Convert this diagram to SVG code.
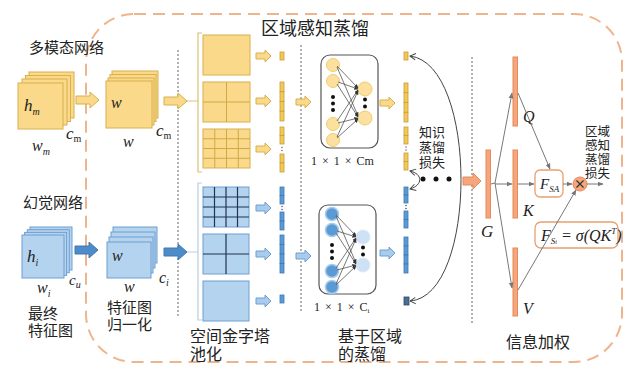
<svg xmlns="http://www.w3.org/2000/svg" width="627" height="370" viewBox="0 0 627 370">
<defs>
<style>
.cjk{font-family:"Liberation Sans","Noto Sans CJK SC",sans-serif;fill:#222}
.m{font-family:"Liberation Serif","Times New Roman",serif;font-style:italic;fill:#222}
.ys{fill:#FAD98A;stroke:#D8B04C;stroke-width:1}
.bs{fill:#B4D3EF;stroke:#6E9FD2;stroke-width:1}
.yc{fill:#F2C85A;stroke:#C99E34;stroke-width:0.8}
.bc{fill:#5B9BD5;stroke:#3E78B4;stroke-width:0.8}
.ygrid{fill:none;stroke:#D0A846;stroke-width:1}
.bgrid{fill:none;stroke:#1F3550;stroke-width:1.2}
.ya{fill:#FAD98A;stroke:#D8B04C;stroke-width:1}
.ba{fill:#4E8BC9;stroke:#3E78B4;stroke-width:1}
.bla{fill:#A9CBEC;stroke:#6E9FD2;stroke-width:1}
.dot{stroke:#666;stroke-width:1;stroke-dasharray:2 2}
.nn{fill:#fff;stroke:#555;stroke-width:1.2}
.nl{stroke:#555;stroke-width:0.8;marker-end:url(#ah)}
.ob{fill:#F5A67C;stroke:#E58A5A;stroke-width:1}
.gl{stroke:#777;stroke-width:1;fill:none;marker-end:url(#ga)}
.ll{stroke:#444;stroke-width:1;fill:none;marker-end:url(#oa);marker-start:url(#oas)}
.box{fill:#fff;stroke:#E8A070;stroke-width:1.3}
.dim{font-family:"Liberation Serif","Times New Roman",serif;font-size:12px;fill:#222;word-spacing:2px}
</style>
<marker id="ah" viewBox="0 0 10 10" refX="9" refY="5" markerWidth="5" markerHeight="5" orient="auto"><path d="M0,0 L10,5 L0,10Z" fill="#333"/></marker>
<marker id="ga" viewBox="0 0 10 10" refX="9" refY="5" markerWidth="6" markerHeight="6" orient="auto"><path d="M0,1 L10,5 L0,9Z" fill="#777"/></marker>
<marker id="oa" viewBox="0 0 10 10" refX="9" refY="5" markerWidth="8" markerHeight="8" orient="auto"><path d="M2,1 L9,5 L2,9" fill="none" stroke="#444" stroke-width="1.2"/></marker>
<marker id="oas" viewBox="0 0 10 10" refX="1" refY="5" markerWidth="8" markerHeight="8" orient="auto"><path d="M8,1 L1,5 L8,9" fill="none" stroke="#444" stroke-width="1.2"/></marker>
<path id="bigArrow" d="M0,-4 H14 V-8 L23,0 L14,8 V4 H0Z"/>
<path id="smArrow" d="M0,-3 H9 V-6 L15,0 L9,6 V3 H0Z"/>
</defs>
<rect width="627" height="370" fill="#fff"/>

<!-- dashed border -->
<rect x="86" y="14" width="536" height="348" rx="48" ry="48" fill="none" stroke="#F0B48C" stroke-width="2" stroke-dasharray="12 7"/>

<!-- dotted separators -->
<line class="dot" x1="178" y1="50" x2="178" y2="318"/>
<line class="dot" x1="301" y1="45" x2="301" y2="312"/>
<line class="dot" x1="472" y1="57" x2="472" y2="323"/>

<text class="cjk" x="261" y="35" font-size="18">区域感知蒸馏</text>

<g id="multimodal-map">
<rect class="ys" x="29" y="72" width="45" height="46"/>
<rect class="ys" x="25.5" y="75.5" width="45" height="46"/>
<rect class="ys" x="22" y="79" width="45" height="46"/>
<rect class="ys" x="18" y="83" width="45" height="46"/>
<text class="m" x="24" y="111" font-size="17">h<tspan font-size="10" dy="4">m</tspan></text>
<text class="m" x="32" y="151" font-size="16">w<tspan font-size="10" dy="4">m</tspan></text>
<text class="m" x="66" y="139" font-size="17">c<tspan font-size="10" dy="3" font-style="normal">m</tspan></text>
<text class="cjk" x="29" y="53" font-size="15">多模态网络</text>
</g>

<g id="multimodal-norm">
<rect class="ys" x="112" y="71" width="46" height="47"/>
<rect class="ys" x="110" y="74.5" width="46" height="47"/>
<rect class="ys" x="108" y="78" width="46" height="47"/>
<rect class="ys" x="106" y="81" width="46" height="47"/>
<text class="m" x="111" y="108" font-size="16">w</text>
<text class="m" x="123" y="147" font-size="16">w</text>
<text class="m" x="156" y="136" font-size="17">c<tspan font-size="10" dy="3" font-style="normal">m</tspan></text>
</g>

<g id="halluc-map">
<rect class="bs" x="30" y="227" width="42" height="43"/>
<rect class="bs" x="27.3" y="229.7" width="42" height="43"/>
<rect class="bs" x="24.6" y="232.4" width="42" height="43"/>
<rect class="bs" x="22" y="235" width="42" height="43"/>
<text class="m" x="27" y="262" font-size="17">h<tspan font-size="10" dy="4">i</tspan></text>
<text class="m" x="37" y="293" font-size="16">w<tspan font-size="10" dy="4">i</tspan></text>
<text class="m" x="69" y="285" font-size="15">c<tspan font-size="10" dy="3">u</tspan></text>
<text class="cjk" x="23" y="208" font-size="15">幻觉网络</text>
<text class="cjk" font-size="15"><tspan x="28" y="319">最终</tspan><tspan x="28" y="336">特征图</tspan></text>
</g>

<g id="halluc-norm">
<rect class="bs" x="113" y="227" width="44" height="36"/>
<rect class="bs" x="111" y="232" width="44" height="36"/>
<rect class="bs" x="109" y="237" width="44" height="36"/>
<rect class="bs" x="107" y="242" width="44" height="36"/>
<text class="m" x="112" y="261" font-size="16">w</text>
<text class="m" x="124" y="292" font-size="16">w</text>
<text class="m" x="159" y="283" font-size="16">c<tspan font-size="10" dy="3">i</tspan></text>
<text class="cjk" font-size="15"><tspan x="107" y="313">特征图</tspan><tspan x="107" y="330">归一化</tspan></text>
</g>

<g id="spp-yellow">
<path d="M202,33 H198 V172 H202" fill="none" stroke="#DCC07A" stroke-width="1.2"/>
<rect class="ys" x="203" y="35" width="47" height="40"/>
<rect class="ys" x="203" y="82" width="47" height="40"/>
<path class="ygrid" d="M226.5,82 V122 M203,102 H250"/>
<rect class="ys" x="203" y="129" width="47" height="39"/>
<path class="ygrid" d="M214.75,129 V168 M226.5,129 V168 M238.25,129 V168 M203,138.75 H250 M203,148.5 H250 M203,158.25 H250"/>
</g>

<g id="spp-blue">
<path d="M202,183 H198 V320 H202" fill="none" stroke="#B8CDE2" stroke-width="1.2"/>
<rect class="bs" x="203" y="187" width="46" height="40"/>
<path class="bgrid" d="M214.5,187 V227 M226,187 V227 M237.5,187 V227 M203,197 H249 M203,207 H249 M203,217 H249"/>
<rect class="bs" x="203" y="234" width="46" height="40"/>
<path class="bgrid" d="M226,234 V274 M203,254 H249"/>
<rect class="bs" x="203" y="281" width="46" height="40"/>
<text class="cjk" font-size="16"><tspan x="190" y="342">空间金字塔</tspan><tspan x="190" y="360">池化</tspan></text>
</g>

<g id="vec-left-yellow">
<rect class="yc" x="280" y="52" width="4" height="8"/>
<rect class="yc" x="280" y="82" width="4" height="9.75"/>
<rect class="yc" x="280" y="91.75" width="4" height="9.75"/>
<rect class="yc" x="280" y="101.5" width="4" height="9.75"/>
<rect class="yc" x="280" y="111.25" width="4" height="9.75"/>
<rect class="yc" x="280" y="127" width="4" height="8.5"/>
<rect class="yc" x="280" y="135.5" width="4" height="8.5"/>
<circle cx="282" cy="147.5" r="0.7" fill="#555"/><circle cx="282" cy="150.5" r="0.7" fill="#555"/>
<rect class="yc" x="280" y="154" width="4" height="9"/>
<rect class="yc" x="280" y="163" width="4" height="9"/>
</g>

<g id="vec-left-blue">
<rect class="bc" x="280" y="187" width="4" height="8.5"/>
<rect class="bc" x="280" y="195.5" width="4" height="8.5"/>
<circle cx="282" cy="206.5" r="0.7" fill="#333"/><circle cx="282" cy="209.5" r="0.7" fill="#333"/>
<rect class="bc" x="280" y="212" width="4" height="9"/>
<rect class="bc" x="280" y="221" width="4" height="9"/>
<rect class="bc" x="280" y="235" width="4" height="9.5"/>
<rect class="bc" x="280" y="244.5" width="4" height="9.5"/>
<rect class="bc" x="280" y="254" width="4" height="9.5"/>
<rect class="bc" x="280" y="263.5" width="4" height="9.5"/>
<rect class="bc" x="280" y="295" width="4" height="8"/>
</g>

<g id="nn-yellow">
<rect class="nn" x="321" y="55" width="57" height="93" rx="9"/>
<g fill="#FBE0A0" stroke="#F2CC70" stroke-width="1">
<circle cx="333" cy="65" r="6.5"/><circle cx="333" cy="81" r="6.5"/><circle cx="333" cy="124" r="6.5"/><circle cx="333" cy="140" r="6.5"/>
<circle cx="365" cy="89" r="7"/><circle cx="365" cy="118" r="7"/>
</g>
<g fill="#111"><circle cx="333" cy="97" r="2"/><circle cx="333" cy="103.5" r="2"/><circle cx="333" cy="110" r="2"/><circle cx="365" cy="99.5" r="2"/><circle cx="365" cy="106.5" r="2"/></g>
<line class="nl" x1="337" y1="66" x2="358" y2="88"/><line class="nl" x1="337" y1="67" x2="358" y2="116"/>
<line class="nl" x1="338" y1="82" x2="358" y2="89"/><line class="nl" x1="337" y1="84" x2="358" y2="117"/>
<line class="nl" x1="337" y1="121" x2="358" y2="90"/><line class="nl" x1="338" y1="123" x2="358" y2="118"/>
<line class="nl" x1="337" y1="137" x2="358" y2="91"/><line class="nl" x1="337" y1="138" x2="358" y2="119"/>
<text class="dim" x="311" y="165">1 × 1 × Cm</text>
</g>

<g id="nn-blue">
<rect class="nn" x="319" y="205" width="57" height="89" rx="9"/>
<g fill="#5B9BD5" stroke="#A9CBEC" stroke-width="1.5">
<circle cx="332" cy="214" r="6.5"/><circle cx="332" cy="230" r="6.5"/><circle cx="332" cy="271" r="6.5"/><circle cx="332" cy="287" r="6.5"/>
</g>
<g fill="#CFE1F4" stroke="#DCE9F6" stroke-width="1"><circle cx="363" cy="237" r="7"/><circle cx="363" cy="265" r="7"/></g>
<g fill="#111"><circle cx="332" cy="245" r="2"/><circle cx="332" cy="251.5" r="2"/><circle cx="332" cy="258" r="2"/><circle cx="363" cy="247.5" r="2"/><circle cx="363" cy="254.5" r="2"/></g>
<line class="nl" x1="336" y1="215" x2="356" y2="236"/><line class="nl" x1="336" y1="216" x2="356" y2="263"/>
<line class="nl" x1="337" y1="231" x2="356" y2="237"/><line class="nl" x1="336" y1="233" x2="356" y2="264"/>
<line class="nl" x1="336" y1="268" x2="356" y2="238"/><line class="nl" x1="337" y1="270" x2="356" y2="265"/>
<line class="nl" x1="336" y1="284" x2="356" y2="239"/><line class="nl" x1="336" y1="285" x2="356" y2="266"/>
<text class="dim" x="314" y="311">1 × 1 × C<tspan font-size="7" dy="2">i</tspan></text>
<text class="cjk" font-size="16"><tspan x="338" y="342">基于区域</tspan><tspan x="338" y="360">的蒸馏</tspan></text>
</g>

<g id="vec-right-yellow">
<rect class="yc" x="404" y="52" width="4" height="8"/>
<rect class="yc" x="404" y="83" width="4" height="9.75"/>
<rect class="yc" x="404" y="92.75" width="4" height="9.75"/>
<rect class="yc" x="404" y="102.5" width="4" height="9.75"/>
<rect class="yc" x="404" y="112.25" width="4" height="9.75"/>
<rect class="yc" x="404" y="127" width="4" height="8.5"/>
<rect class="yc" x="404" y="135.5" width="4" height="8.5"/>
<circle cx="406" cy="147" r="0.7" fill="#555"/><circle cx="406" cy="150" r="0.7" fill="#555"/>
<rect class="yc" x="404" y="153" width="4" height="8.5"/>
<rect class="yc" x="404" y="161.5" width="4" height="8.5"/>
</g>

<g id="vec-right-blue">
<rect class="bc" x="404" y="187" width="4" height="8"/>
<rect class="bc" x="404" y="195" width="4" height="8"/>
<circle cx="406" cy="205.5" r="0.7" fill="#333"/><circle cx="406" cy="208.5" r="0.7" fill="#333"/>
<rect class="bc" x="404" y="211" width="4" height="8.5"/>
<rect class="bc" x="404" y="219.5" width="4" height="8.5"/>
<rect class="bc" x="404" y="237" width="4" height="9"/>
<rect class="bc" x="404" y="246" width="4" height="9"/>
<rect class="bc" x="404" y="255" width="4" height="9"/>
<rect class="bc" x="404" y="264" width="4" height="9"/>
<rect x="404" y="297" width="5" height="8" fill="#4A6F96" stroke="#2E4A66" stroke-width="0.8"/>
</g>

<g id="kd-loss">
<text class="cjk" font-size="13"><tspan x="419" y="137">知识</tspan><tspan x="419" y="152">蒸馏</tspan><tspan x="419" y="167">损失</tspan></text>
<g fill="#111"><circle cx="423" cy="179" r="2.5"/><circle cx="436" cy="179" r="2.5"/><circle cx="449" cy="179" r="2.5"/></g>
</g>

<g id="bar-G">
<rect class="ob" x="486" y="150" width="4.5" height="68"/>
<text class="m" x="481" y="237" font-size="17">G</text>
</g>
<g id="bar-Q">
<rect class="ob" x="513" y="57" width="4.5" height="69"/>
<text class="m" x="523" y="122" font-size="16">Q</text>
</g>
<g id="bar-K">
<rect class="ob" x="513" y="150" width="4.5" height="68"/>
<text class="m" x="523" y="216" font-size="16">K</text>
</g>
<g id="bar-V">
<rect class="ob" x="513" y="248" width="4.5" height="68"/>
<text class="m" x="523" y="314" font-size="16">V</text>
</g>

<g id="fsa">
<rect class="box" x="535" y="170" width="28" height="27" rx="5"/>
<text class="m" x="540" y="189" font-size="15">F<tspan font-size="9" dy="3">SA</tspan></text>
</g>
<g id="mult">
<circle cx="580" cy="184" r="7" fill="#F5A67C" stroke="#E58A5A" stroke-width="1"/>
<path d="M576.5,180.5 L583.5,187.5 M583.5,180.5 L576.5,187.5" stroke="#333" stroke-width="1.2"/>
</g>
<g id="formula">
<rect class="box" x="535" y="222" width="83" height="26" rx="6"/>
<text class="m" x="541" y="241" font-size="16">F<tspan font-size="9" dy="3">S<tspan font-size="6">i</tspan></tspan><tspan dy="-3"> = σ(QK</tspan><tspan font-size="9" dy="-7">T</tspan><tspan dy="7">)</tspan></text>
</g>
<g id="ra-loss">
<text class="cjk" font-size="12.5"><tspan x="585" y="136">区域</tspan><tspan x="585" y="150">感知</tspan><tspan x="585" y="164">蒸馏</tspan><tspan x="585" y="178">损失</tspan></text>
<text class="cjk" x="506" y="348" font-size="16">信息加权</text>
</g>

<g id="connectors">
<use href="#bigArrow" class="ya" transform="translate(76,100)"/>
<use href="#bigArrow" class="ya" transform="translate(164,101)"/>
<line x1="187" y1="101" x2="198" y2="101" stroke="#DCC07A" stroke-width="1"/>
<use href="#bigArrow" class="ba" transform="translate(75,250)"/>
<use href="#bigArrow" class="ba" transform="translate(164,252)"/>
<line x1="187" y1="252" x2="198" y2="252" stroke="#B8CDE2" stroke-width="1"/>
<use href="#smArrow" class="ya" transform="translate(256,56)"/>
<use href="#smArrow" class="ya" transform="translate(256,101)"/>
<use href="#smArrow" class="ya" transform="translate(256,149)"/>
<use href="#smArrow" class="bla" transform="translate(256,208)"/>
<use href="#smArrow" class="bla" transform="translate(256,254)"/>
<use href="#smArrow" class="bla" transform="translate(256,301)"/>
<use href="#smArrow" class="ya" transform="translate(296,102)"/>
<use href="#smArrow" class="bla" transform="translate(296,256)"/>
<use href="#smArrow" class="ya" transform="translate(380,103)"/>
<use href="#smArrow" class="bla" transform="translate(380,253)"/>
<path class="ll" d="M410,301 C478,296 478,64 410,56"/>
<path class="ll" d="M410,171 C423,174 423,185 410,189"/>
<path class="ob" d="M463,177 H473 V173 L481,181 L473,189 V185 H463Z"/>
<path class="gl" d="M491,184 L495,183 L512,93"/>
<path class="gl" d="M495,183 L512,288"/>
<line class="gl" x1="495" y1="184" x2="512" y2="184"/>
<line class="gl" x1="518" y1="93" x2="550" y2="169"/>
<line class="gl" x1="518" y1="184" x2="534" y2="184"/>
<line class="gl" x1="563" y1="184" x2="572" y2="184"/>
<line class="gl" x1="587" y1="184" x2="603" y2="184"/>
<line class="gl" x1="518" y1="290" x2="576" y2="190"/>
</g>
</svg>
